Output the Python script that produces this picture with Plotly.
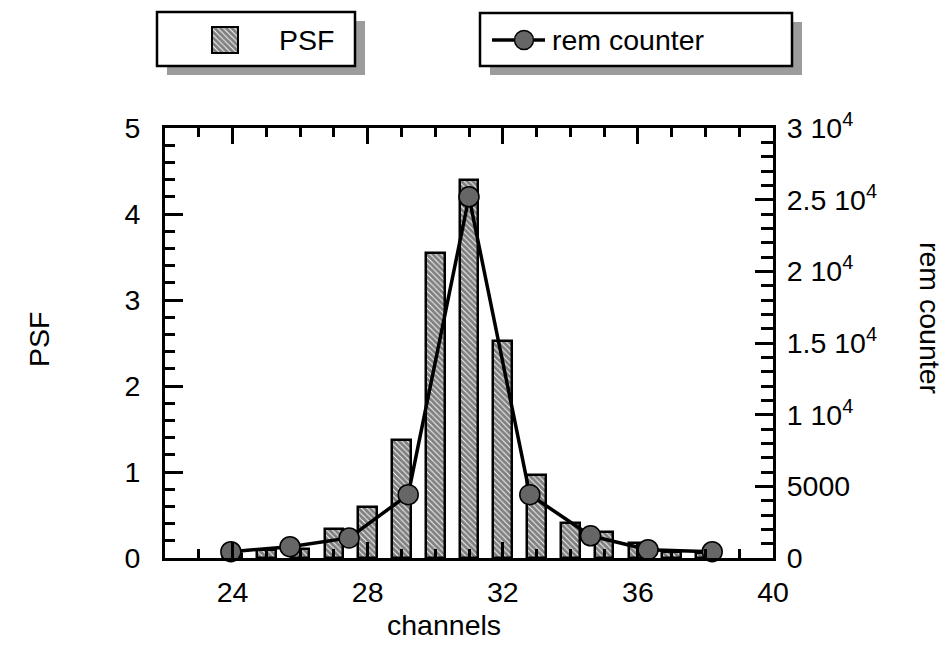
import plotly.graph_objects as go

# ---- data ----
channels = [24, 25, 26, 27, 28, 29, 30, 31, 32, 33, 34, 35, 36, 37, 38]
psf = [0.05, 0.09, 0.10, 0.34, 0.59, 1.37, 3.55, 4.40, 2.52, 0.96, 0.41, 0.30, 0.18, 0.07, 0.06]

rem_channels = [23.95, 25.7, 27.45, 29.2, 31.0, 32.8, 34.6, 36.3, 38.2]
rem_counts = [440, 790, 1400, 4420, 25200, 4420, 1550, 580, 440]

x_ticks = [24, 28, 32, 36, 40]
psf_ticks = [0, 1, 2, 3, 4, 5]
rem_ticks = [0, 5000, 10000, 15000, 20000, 25000, 30000]
rem_tick_text = ["0", "5000", "1 10<sup>4</sup>", "1.5 10<sup>4</sup>",
                 "2 10<sup>4</sup>", "2.5 10<sup>4</sup>", "3 10<sup>4</sup>"]

W, H = 950, 657
FONT = "Liberation Sans, Arial, Helvetica, sans-serif"
FS = 28.5

# plot frame in pixels
L, R, T, B = 165, 773, 128, 558
xdom = [L / W, R / W]
ydom = [1 - B / H, 1 - T / H]

hatch = dict(shape="\\", fgcolor="black", bgcolor="white", size=4, solidity=0.78)

fig = go.Figure()

fig.add_trace(go.Bar(
    x=channels, y=psf, width=0.55, name="PSF",
    marker=dict(color="white", line=dict(color="black", width=2.5), pattern=hatch),
    xaxis="x", yaxis="y", showlegend=False,
))

fig.add_trace(go.Scatter(
    x=rem_channels, y=rem_counts, mode="lines+markers", name="rem counter",
    line=dict(color="black", width=3.5),
    marker=dict(size=20, color="#666666", line=dict(color="black", width=1.5)),
    xaxis="x", yaxis="y2", showlegend=False, cliponaxis=False,
))

# ---- legend boxes drawn on a pixel-space overlay ----
boxes = [(157, 12, 355, 66), (480, 13, 792, 66)]
shapes = []
for (x0, y0, x1, y1) in boxes:
    shapes.append(dict(type="rect", xref="x3", yref="y3", x0=x0 + 10, y0=y0 + 9, x1=x1 + 10, y1=y1 + 9,
                       fillcolor="#9c9c9c", line=dict(width=0), layer="below"))
    shapes.append(dict(type="rect", xref="x3", yref="y3", x0=x0, y0=y0, x1=x1, y1=y1,
                       fillcolor="white", line=dict(color="black", width=2.5), layer="below"))

# bar swatch
fig.add_trace(go.Bar(
    x=[225], y=[26], base=[27], width=[26],
    marker=dict(color="white", line=dict(color="black", width=2), pattern=hatch),
    xaxis="x3", yaxis="y3", showlegend=False, hoverinfo="skip",
))
# line + marker swatch
fig.add_trace(go.Scatter(
    x=[492, 545], y=[40, 40], mode="lines", line=dict(color="black", width=3.5),
    xaxis="x3", yaxis="y3", showlegend=False, hoverinfo="skip",
))
fig.add_trace(go.Scatter(
    x=[524], y=[40], mode="markers",
    marker=dict(size=19, color="#666666", line=dict(color="black", width=1.5)),
    xaxis="x3", yaxis="y3", showlegend=False, hoverinfo="skip",
))

annotations = [
    dict(text="PSF", x=277, y=40, xref="x3", yref="y3", xanchor="left", yanchor="middle",
         showarrow=False, font=dict(size=FS, family=FONT, color="black")),
    dict(text="rem counter", x=550, y=40, xref="x3", yref="y3", xanchor="left", yanchor="middle",
         showarrow=False, font=dict(size=FS, family=FONT, color="black")),
    dict(text="channels", x=444, y=625, xref="x3", yref="y3", xanchor="center", yanchor="middle",
         showarrow=False, font=dict(size=FS, family=FONT, color="black")),
    dict(text="PSF", x=39, y=340, xref="x3", yref="y3", xanchor="center", yanchor="middle",
         textangle=-90, showarrow=False, font=dict(size=FS, family=FONT, color="black")),
    dict(text="rem counter", x=930, y=318, xref="x3", yref="y3", xanchor="center", yanchor="middle",
         textangle=90, showarrow=False, font=dict(size=FS, family=FONT, color="black")),
]

axis_common = dict(showgrid=False, zeroline=False, showline=True, linecolor="black", linewidth=3,
                   automargin=False,
                   ticks="inside", tickcolor="black", tickfont=dict(size=FS, family=FONT, color="black"))

fig.update_layout(
    width=W, height=H,
    margin=dict(l=0, r=0, t=0, b=0, pad=0, autoexpand=False),
    paper_bgcolor="white", plot_bgcolor="rgba(0,0,0,0)",
    bargap=0, barmode="overlay",
    shapes=shapes, annotations=annotations,
    xaxis=dict(domain=xdom, range=[22, 40], anchor="y", tickmode="array", tickvals=x_ticks,
               ticklen=16, tickwidth=3, mirror="ticks", ticklabelstandoff=7,
               minor=dict(ticks="inside", tickmode="linear", tick0=0, dtick=1, ticklen=9,
                          tickwidth=2.5, tickcolor="black"),
               **axis_common),
    yaxis=dict(domain=ydom, range=[0, 5], anchor="x", tickmode="array", tickvals=psf_ticks,
               ticklen=18, tickwidth=3, mirror=False, ticklabelstandoff=16,
               minor=dict(ticks="inside", tickmode="linear", tick0=0, dtick=0.2, ticklen=10,
                          tickwidth=2.5, tickcolor="black"),
               **axis_common),
    yaxis2=dict(range=[0, 30000], overlaying="y", side="right", anchor="x",
                tickmode="array", tickvals=rem_ticks, ticktext=rem_tick_text,
                ticklen=18, tickwidth=3, ticklabelstandoff=5,
                minor=dict(ticks="inside", tickmode="linear", tick0=0, dtick=1000, ticklen=12,
                           tickwidth=2.5, tickcolor="black"),
                **axis_common),
    xaxis3=dict(domain=[0, 1], range=[0, W], anchor="y3", visible=False, fixedrange=True,
                automargin=False),
    yaxis3=dict(domain=[0, 1], range=[H, 0], anchor="x3", visible=False, fixedrange=True,
                automargin=False),
)

fig.write_html("out.html")
